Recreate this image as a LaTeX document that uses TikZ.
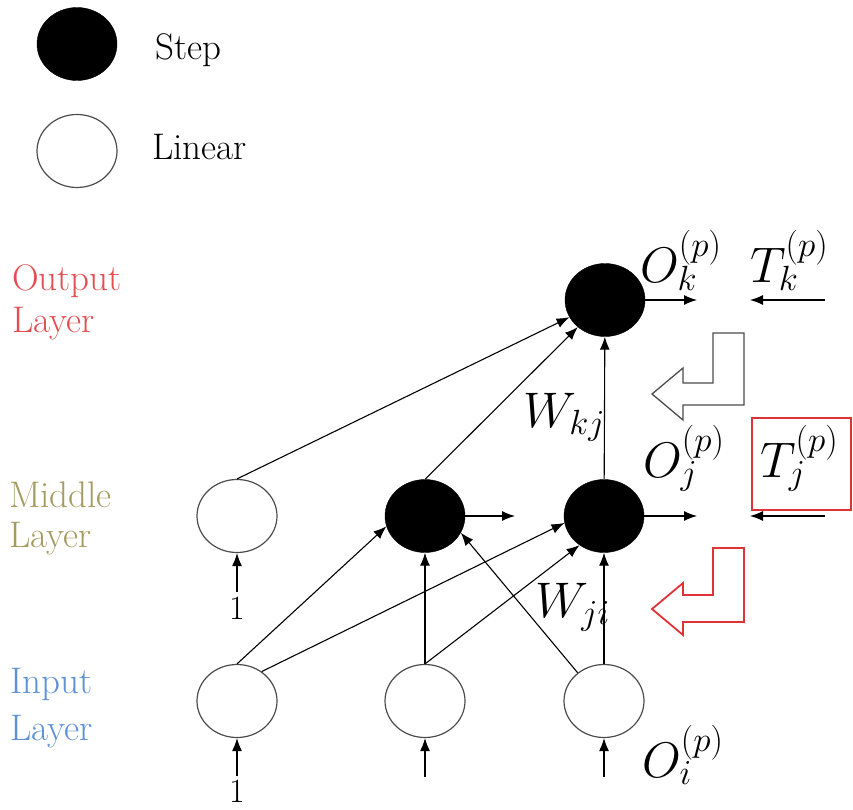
\RequirePackage{fix-cm}
\documentclass[tikz,border=0pt]{standalone}
\usetikzlibrary{shapes.geometric,arrows.meta}
\definecolor{outred}{RGB}{228,78,82}
\definecolor{midkhaki}{RGB}{165,155,95}
\definecolor{inblue}{RGB}{95,145,215}
\definecolor{arrred}{RGB}{225,50,55}
\begin{document}
\begin{tikzpicture}[x=1pt,y=-1pt,
  neuron/.style={ellipse, minimum width=80pt, minimum height=73pt, inner sep=0pt},
  stepnode/.style={neuron, fill=black, draw=black},
  linnode/.style={neuron, draw=black!70, line width=1.2pt, fill=white},
  conn/.style={line width=1.1pt, -{Latex[length=13pt,width=10pt]}},
  lbl/.style={font=\fontsize{37}{42}\selectfont, inner sep=0pt, anchor=base west},
  onelbl/.style={font=\fontsize{34}{38}\selectfont, inner sep=0pt, anchor=base},
  mlbl/.style={font=\fontsize{50}{55}\selectfont, inner sep=0pt, anchor=base west},
]
\useasboundingbox (0,0) rectangle (853,810);

% legend
\node[stepnode] (legstep) at (77,44) {};
\node[lbl] (legsteptxt) at (155,60) {Step};
\node[linnode] (leglin) at (77,151) {};
\node[lbl] (leglintxt) at (152,160) {Linear};

% layer labels
\node[lbl, text=outred] (outl1) at (12,290) {Output};
\node[lbl, text=outred] (outl2) at (12,332) {Layer};
\node[lbl, text=midkhaki] (midl1) at (9,507) {Middle};
\node[lbl, text=midkhaki] (midl2) at (9,547) {Layer};
\node[lbl, text=inblue] (inl1) at (10,693) {Input};
\node[lbl, text=inblue] (inl2) at (10,740) {Layer};

% neurons
\node[stepnode] (out) at (605,300) {};
\node[linnode] (mw) at (237,516) {};
\node[stepnode] (mb) at (425,516) {};
\node[stepnode] (rb) at (604,516) {};
\node[linnode] (il) at (237,701) {};
\node[linnode] (im) at (425,701) {};
\node[linnode] (ir) at (604,701) {};

% middle -> output
\draw[conn] (mw.north) -- (out);
\draw[conn] (mb.north) -- (out);
\draw[conn] (rb) -- (out);

% outputs and targets
\coordinate (mbo) at (515,516);
\draw[conn] (mb.east) -- (mbo);
\coordinate (rbo) at (697,516);
\draw[conn] (rb.east) -- (rbo);
\coordinate (outo) at (697,300);
\draw[conn] (out.east) -- (outo);
\coordinate (tks) at (825,300);
\coordinate (tke) at (750,300);
\draw[conn] (tks) -- (tke);
\coordinate (tjs) at (825,516);
\coordinate (tje) at (750,516);
\draw[conn] (tjs) -- (tje);

% input -> middle
\draw[conn] (il.north) -- (mb.195);
\draw[conn] (il.50) -- (rb.190);
\draw[conn] (im) -- (mb);
\draw[conn] (im.north) -- (rb.230);
\draw[conn] (ir.133) -- (mb.335);
\draw[conn] (ir) -- (rb);

% bias and input arrows
\coordinate (mws) at (237,592);
\draw[conn] (mws) -- (mw.south);
\node[onelbl] (one1) at (237,619) {1};
\coordinate (ils) at (237,776);
\draw[conn] (ils) -- (il.south);
\node[onelbl] (one2) at (237,802) {1};
\coordinate (ims) at (425,777);
\draw[conn] (ims) -- (im.south);
\coordinate (irs) at (604,777);
\draw[conn] (irs) -- (ir.south);

% math labels
\node[mlbl] (ok) at (640,282) {$O_k^{(p)}$};
\node[mlbl] (tk) at (750,282) {$T_k^{(p)}$};
\node[mlbl] (oj) at (643,477) {$O_j^{(p)}$};
\node[mlbl] (tj) at (760,477) {$T_j^{(p)}$};
\node[mlbl] (oi) at (642,777) {$O_i^{(p)}$};
\node[mlbl] (wkj) at (523,427) {$W_{kj}$};
\node[mlbl] (wji) at (535,617) {$W_{ji}$};

% target box
\draw[arrred, line width=1.2pt] (752,418) rectangle (851,510);

% block arrows
\draw[black!70, line width=1.3pt, fill=white] (744,333) -- (713,333) -- (713,383) -- (683,383) -- (683,368) -- (652,394) -- (683,420) -- (683,405) -- (744,405) -- cycle;
\draw[arrred, line width=1.8pt, fill=white] (744,548) -- (713,548) -- (713,595) -- (683,595) -- (683,583) -- (652,609) -- (683,635) -- (683,622) -- (744,622) -- cycle;
\end{tikzpicture}
\end{document}
